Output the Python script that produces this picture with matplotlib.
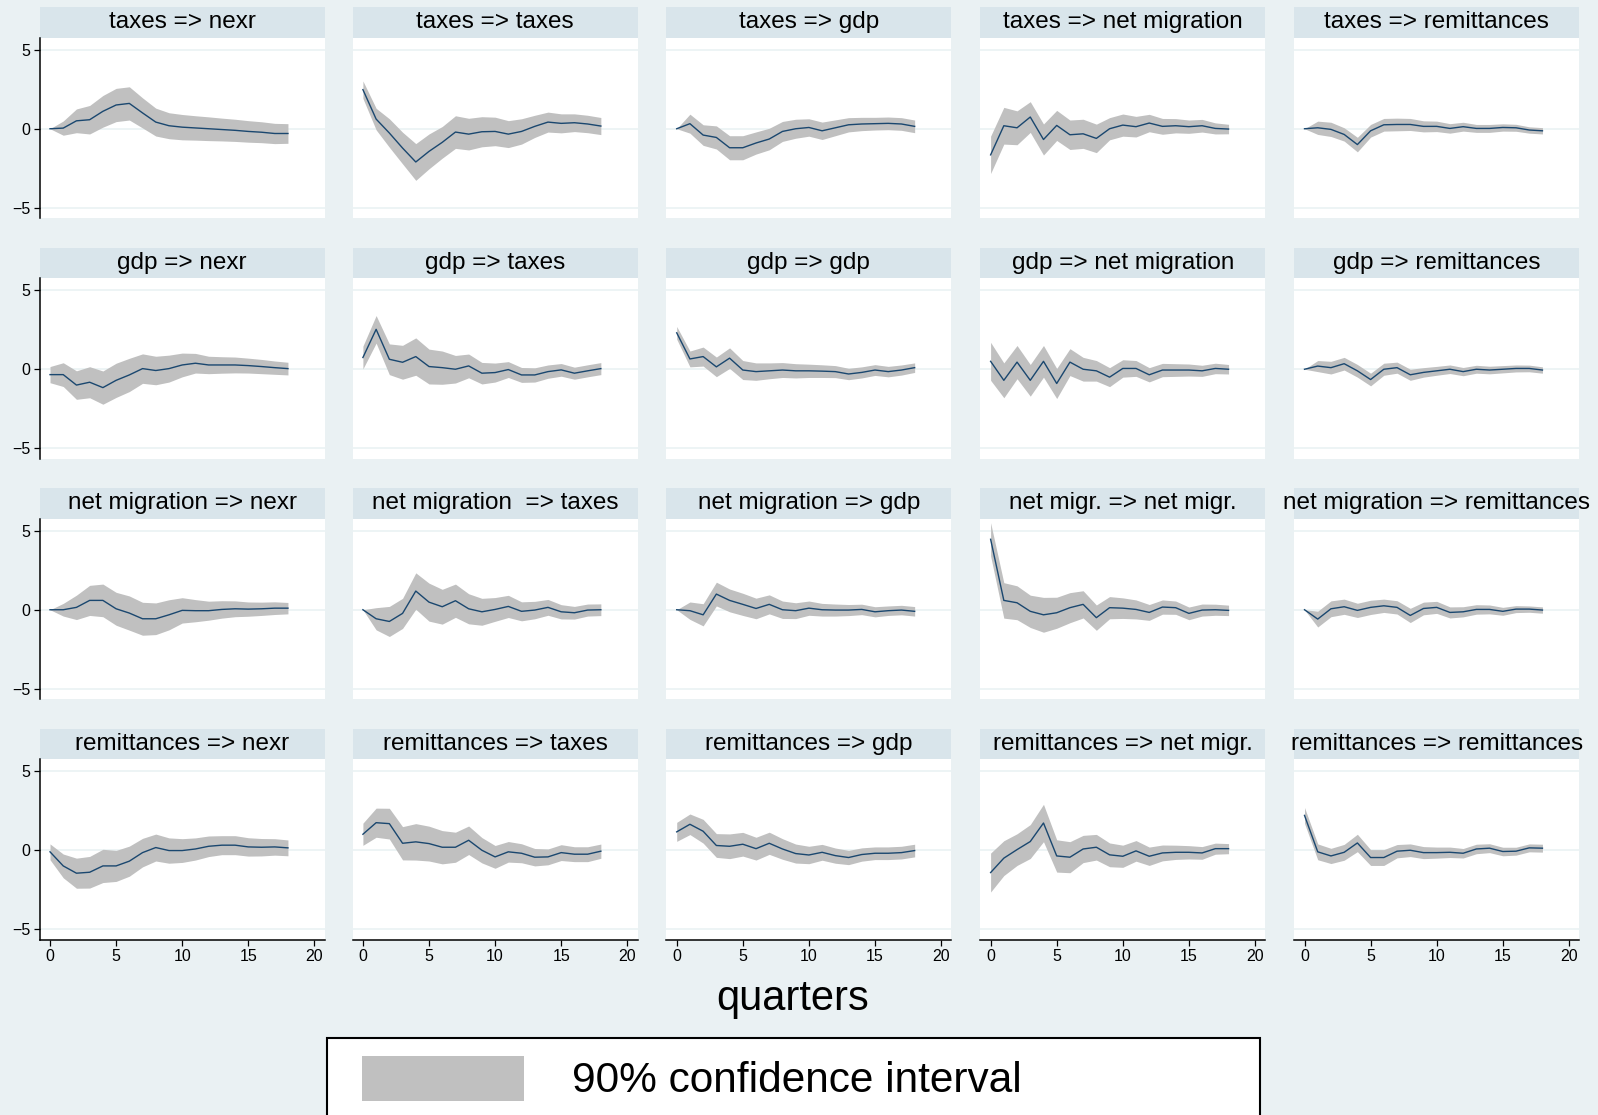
import matplotlib
matplotlib.use("Agg")
import matplotlib.pyplot as plt
from matplotlib.patches import Rectangle

plt.rcParams['font.family'] = ['Liberation Sans', 'DejaVu Sans']

# quarters after the shock
steps = list(range(19))

titles_taxes = ["taxes => nexr", "taxes => taxes", "taxes => gdp", "taxes => net migration", "taxes => remittances"]
titles_gdp = ["gdp => nexr", "gdp => taxes", "gdp => gdp", "gdp => net migration", "gdp => remittances"]
titles_netmig = ["net migration => nexr", "net migration  => taxes", "net migration => gdp", "net migr. => net migr.", "net migration => remittances"]
titles_remit = ["remittances => nexr", "remittances => taxes", "remittances => gdp", "remittances => net migr.", "remittances => remittances"]

# impulse responses (irf) and half width of the 90% band (ci)
irf_taxes_nexr = [0, 0.04, 0.5, 0.57, 1.1, 1.5, 1.6, 1.0, 0.42, 0.19, 0.1, 0.05, 0.0, -0.05, -0.1, -0.17, -0.22, -0.3, -0.3]
ci_taxes_nexr = [0, 0.45, 0.75, 0.9, 1.0, 1.05, 1.05, 0.95, 0.88, 0.82, 0.8, 0.77, 0.75, 0.72, 0.7, 0.68, 0.66, 0.64, 0.62]
irf_taxes_taxes = [2.47, 0.61, -0.27, -1.22, -2.1, -1.43, -0.86, -0.21, -0.34, -0.19, -0.17, -0.34, -0.17, 0.15, 0.42, 0.34, 0.38, 0.3, 0.17]
ci_taxes_taxes = [0.55, 0.68, 0.9, 1.0, 1.16, 1.1, 1.0, 1.03, 1.0, 0.95, 0.9, 0.85, 0.8, 0.7, 0.63, 0.6, 0.56, 0.55, 0.54]
irf_taxes_gdp = [0, 0.32, -0.4, -0.55, -1.2, -1.2, -0.9, -0.65, -0.17, 0.0, 0.08, -0.13, 0.06, 0.25, 0.3, 0.32, 0.34, 0.3, 0.15]
ci_taxes_gdp = [0, 0.6, 0.65, 0.73, 0.76, 0.76, 0.7, 0.68, 0.63, 0.6, 0.55, 0.55, 0.5, 0.45, 0.42, 0.4, 0.4, 0.4, 0.4]
irf_taxes_netmig = [-1.65, 0.19, 0.06, 0.74, -0.68, 0.21, -0.38, -0.32, -0.61, 0.0, 0.23, 0.13, 0.36, 0.15, 0.19, 0.13, 0.19, 0.02, -0.02]
ci_taxes_netmig = [1.18, 1.16, 1.07, 0.97, 0.98, 0.95, 0.93, 0.92, 0.9, 0.7, 0.7, 0.65, 0.55, 0.5, 0.45, 0.42, 0.4, 0.35, 0.3]
irf_taxes_remit = [0, 0.06, -0.04, -0.36, -1.0, -0.13, 0.25, 0.27, 0.27, 0.15, 0.15, 0.02, 0.13, 0.02, 0.02, 0.08, 0.06, -0.08, -0.13]
ci_taxes_remit = [0, 0.42, 0.45, 0.42, 0.46, 0.4, 0.4, 0.4, 0.38, 0.35, 0.33, 0.3, 0.28, 0.25, 0.25, 0.23, 0.22, 0.2, 0.2]

irf_gdp_nexr = [-0.34, -0.34, -1.0, -0.82, -1.16, -0.7, -0.36, 0.04, -0.08, 0.04, 0.27, 0.38, 0.27, 0.27, 0.27, 0.23, 0.17, 0.1, 0.04]
ci_gdp_nexr = [0.51, 0.75, 0.9, 0.98, 1.05, 1.08, 1.05, 0.93, 0.9, 0.85, 0.75, 0.62, 0.55, 0.52, 0.5, 0.47, 0.45, 0.42, 0.4]
irf_gdp_taxes = [0.74, 2.52, 0.63, 0.44, 0.8, 0.17, 0.1, 0.0, 0.21, -0.25, -0.21, -0.02, -0.36, -0.36, -0.15, -0.04, -0.25, -0.1, 0.04]
ci_gdp_taxes = [0.72, 0.87, 0.97, 1.07, 1.18, 1.1, 1.05, 0.87, 0.75, 0.68, 0.6, 0.5, 0.47, 0.45, 0.42, 0.4, 0.38, 0.38, 0.38]
irf_gdp_gdp = [2.3, 0.65, 0.8, 0.15, 0.7, -0.05, -0.15, -0.1, -0.05, -0.1, -0.1, -0.12, -0.15, -0.3, -0.2, -0.05, -0.15, -0.05, 0.1]
ci_gdp_gdp = [0.4, 0.5, 0.6, 0.62, 0.65, 0.6, 0.55, 0.5, 0.47, 0.45, 0.42, 0.4, 0.38, 0.36, 0.35, 0.34, 0.33, 0.32, 0.3]
irf_gdp_netmig = [0.5, -0.7, 0.45, -0.7, 0.5, -0.9, 0.45, 0.0, -0.1, -0.5, 0.05, 0.05, -0.35, -0.05, -0.05, -0.05, -0.1, 0.05, 0.0]
ci_gdp_netmig = [1.2, 1.1, 1.05, 1.0, 1.0, 0.95, 0.85, 0.75, 0.65, 0.6, 0.55, 0.5, 0.45, 0.42, 0.4, 0.38, 0.35, 0.33, 0.3]
irf_gdp_remit = [0, 0.2, 0.1, 0.35, -0.1, -0.65, 0.0, 0.1, -0.35, -0.2, -0.1, 0.0, -0.15, 0.0, -0.05, 0.0, 0.05, 0.05, -0.05]
ci_gdp_remit = [0, 0.35, 0.4, 0.4, 0.4, 0.4, 0.38, 0.35, 0.35, 0.3, 0.28, 0.27, 0.26, 0.25, 0.24, 0.23, 0.22, 0.21, 0.2]

irf_netmig_nexr = [0, 0, 0.15, 0.59, 0.59, 0.06, -0.21, -0.57, -0.57, -0.32, -0.04, -0.06, -0.06, 0.02, 0.06, 0.04, 0.06, 0.1, 0.1]
ci_netmig_nexr = [0, 0.4, 0.77, 0.95, 1.03, 1.04, 1.08, 1.04, 1.0, 0.95, 0.8, 0.7, 0.6, 0.55, 0.5, 0.45, 0.42, 0.4, 0.36]
irf_netmig_taxes = [0, -0.57, -0.74, -0.23, 1.18, 0.48, 0.19, 0.57, 0.06, -0.13, 0.02, 0.21, -0.1, -0.02, 0.15, -0.13, -0.19, -0.02, 0]
ci_netmig_taxes = [0, 0.7, 0.95, 0.95, 1.15, 1.2, 1.1, 1.05, 0.95, 0.85, 0.75, 0.7, 0.6, 0.55, 0.5, 0.45, 0.4, 0.38, 0.37]
irf_netmig_gdp = [0, -0.06, -0.32, 0.99, 0.59, 0.34, 0.08, 0.34, 0, -0.06, 0.1, 0, -0.02, -0.02, 0.02, -0.13, -0.06, -0.02, -0.1]
ci_netmig_gdp = [0, 0.55, 0.7, 0.75, 0.72, 0.7, 0.65, 0.6, 0.55, 0.5, 0.45, 0.4, 0.38, 0.35, 0.33, 0.32, 0.3, 0.3, 0.3]
irf_netmig_netmig = [4.45, 0.59, 0.44, -0.1, -0.32, -0.19, 0.13, 0.34, -0.5, 0.13, 0.1, 0.02, -0.17, 0.17, 0.13, -0.23, -0.02, 0, -0.04]
ci_netmig_netmig = [1.05, 1.12, 1.07, 1.02, 1.1, 0.98, 0.95, 0.86, 0.8, 0.7, 0.65, 0.6, 0.5, 0.45, 0.42, 0.4, 0.38, 0.35, 0.33]
irf_netmig_remit = [0, -0.59, 0.06, 0.19, -0.04, 0.15, 0.25, 0.15, -0.36, 0.08, 0.15, -0.17, -0.13, 0.02, 0.02, -0.1, 0.04, 0.04, -0.02]
ci_netmig_remit = [0, 0.5, 0.5, 0.48, 0.45, 0.45, 0.42, 0.42, 0.45, 0.4, 0.38, 0.35, 0.32, 0.3, 0.28, 0.25, 0.22, 0.2, 0.2]

irf_remit_nexr = [-0.1, -0.99, -1.45, -1.39, -0.99, -0.99, -0.69, -0.15, 0.17, -0.02, -0.02, 0.08, 0.25, 0.32, 0.32, 0.21, 0.19, 0.21, 0.15]
ci_remit_nexr = [0.5, 0.75, 0.95, 1.0, 1.05, 0.98, 0.95, 0.9, 0.85, 0.8, 0.75, 0.7, 0.65, 0.6, 0.6, 0.58, 0.55, 0.52, 0.5]
irf_remit_taxes = [1.01, 1.74, 1.68, 0.44, 0.53, 0.42, 0.19, 0.19, 0.63, 0, -0.42, -0.1, -0.19, -0.44, -0.42, -0.15, -0.25, -0.25, -0.06]
ci_remit_taxes = [0.7, 0.92, 0.97, 1.05, 1.15, 1.1, 1.05, 0.95, 0.9, 0.8, 0.72, 0.65, 0.6, 0.55, 0.5, 0.5, 0.47, 0.47, 0.45]
irf_remit_gdp = [1.16, 1.64, 1.2, 0.3, 0.25, 0.38, 0.1, 0.44, 0.08, -0.21, -0.3, -0.13, -0.34, -0.46, -0.27, -0.19, -0.19, -0.15, -0.02]
ci_remit_gdp = [0.6, 0.65, 0.75, 0.75, 0.78, 0.75, 0.72, 0.7, 0.65, 0.6, 0.55, 0.5, 0.48, 0.45, 0.42, 0.4, 0.4, 0.4, 0.4]
irf_remit_netmig = [-1.41, -0.5, 0.04, 0.55, 1.72, -0.36, -0.44, 0.08, 0.19, -0.29, -0.38, -0.04, -0.38, -0.17, -0.13, -0.13, -0.17, 0.1, 0.1]
ci_remit_netmig = [1.23, 1.1, 1.0, 1.07, 1.18, 1.02, 0.98, 0.86, 0.81, 0.75, 0.7, 0.65, 0.58, 0.5, 0.45, 0.42, 0.4, 0.35, 0.32]
irf_remit_remit = [2.2, -0.1, -0.36, -0.13, 0.46, -0.46, -0.46, -0.06, 0, -0.15, -0.15, -0.13, -0.19, 0.08, 0.13, -0.08, -0.06, 0.15, 0.13]
ci_remit_remit = [0.5, 0.5, 0.48, 0.5, 0.55, 0.5, 0.5, 0.42, 0.4, 0.38, 0.35, 0.33, 0.3, 0.3, 0.28, 0.27, 0.25, 0.25, 0.25]

titles = [titles_taxes, titles_gdp, titles_netmig, titles_remit]
irfs = [
    [irf_taxes_nexr, irf_taxes_taxes, irf_taxes_gdp, irf_taxes_netmig, irf_taxes_remit],
    [irf_gdp_nexr, irf_gdp_taxes, irf_gdp_gdp, irf_gdp_netmig, irf_gdp_remit],
    [irf_netmig_nexr, irf_netmig_taxes, irf_netmig_gdp, irf_netmig_netmig, irf_netmig_remit],
    [irf_remit_nexr, irf_remit_taxes, irf_remit_gdp, irf_remit_netmig, irf_remit_remit],
]
cis = [
    [ci_taxes_nexr, ci_taxes_taxes, ci_taxes_gdp, ci_taxes_netmig, ci_taxes_remit],
    [ci_gdp_nexr, ci_gdp_taxes, ci_gdp_gdp, ci_gdp_netmig, ci_gdp_remit],
    [ci_netmig_nexr, ci_netmig_taxes, ci_netmig_gdp, ci_netmig_netmig, ci_netmig_remit],
    [ci_remit_nexr, ci_remit_taxes, ci_remit_gdp, ci_remit_netmig, ci_remit_remit],
]

bg = "#eaf1f3"
strip_col = "#d9e5eb"
grid_col = "#eaf2f3"
band_col = "#c0c0c0"
line_col = "#1a476f"

W, H = 1598, 1115
fig = plt.figure(figsize=(W / 100, H / 100), dpi=100, facecolor=bg)

col_left = [39.7, 352.6, 666.4, 980.3, 1294.2]
pw = 285
row_top = 37.7
ph = 180.5
row_step = 240.5
strip_h = 30.6

for r in range(4):
    for c in range(5):
        top = row_top + r * row_step
        ax = fig.add_axes([col_left[c] / W, 1 - (top + ph) / H, pw / W, ph / H])
        ax.set_facecolor("white")
        lo = [m - h for m, h in zip(irfs[r][c], cis[r][c])]
        hi = [m + h for m, h in zip(irfs[r][c], cis[r][c])]
        ax.fill_between(steps, lo, hi, color=band_col, lw=0, zorder=2)
        ax.plot(steps, irfs[r][c], color=line_col, lw=1.0, zorder=3)
        ax.set_xlim(-0.78, 20.78)
        ax.set_ylim(-5.65, 5.75)
        for g in [-5, 0, 5]:
            ax.axhline(g, color=grid_col, lw=1.2, zorder=1)
        for s in ax.spines.values():
            s.set_visible(False)
        ax.tick_params(length=4.5, width=0.9, colors="black", labelsize=11.5, pad=2)
        if c == 0:
            ax.spines["left"].set_visible(True)
            ax.spines["left"].set_linewidth(1.1)
            ax.set_yticks([-5, 0, 5])
        else:
            ax.set_yticks([])
        if r == 3:
            ax.spines["bottom"].set_visible(True)
            ax.spines["bottom"].set_linewidth(1.1)
            ax.set_xticks([0, 5, 10, 15, 20])
        else:
            ax.set_xticks([])
        sh = strip_h / ph
        ax.add_patch(Rectangle((0, 1), 1, sh, transform=ax.transAxes, clip_on=False,
                               facecolor=strip_col, edgecolor="none"))
        ax.text(0.5, 1 + sh / 2, titles[r][c], transform=ax.transAxes,
                ha="center", va="center", fontsize=17.5, color="black")

fig.text(793 / W, 1 - 999 / H, "quarters", ha="center", va="center", fontsize=30)

# legend box, cut by the bottom edge as in the original
fig.patches.append(Rectangle((327 / W, -0.02), (1260 - 327) / W, (1115 - 1038) / H + 0.02,
                             transform=fig.transFigure, facecolor="white", edgecolor="black", lw=1.5))
fig.patches.append(Rectangle((362 / W, 1 - 1101 / H), 162 / W, 45 / H,
                             transform=fig.transFigure, facecolor=band_col, edgecolor="none"))
fig.text(572 / W, 1 - 1081 / H, "90% confidence interval", ha="left", va="center", fontsize=30.5)

fig.savefig("out.png", dpi=100, facecolor=bg)
